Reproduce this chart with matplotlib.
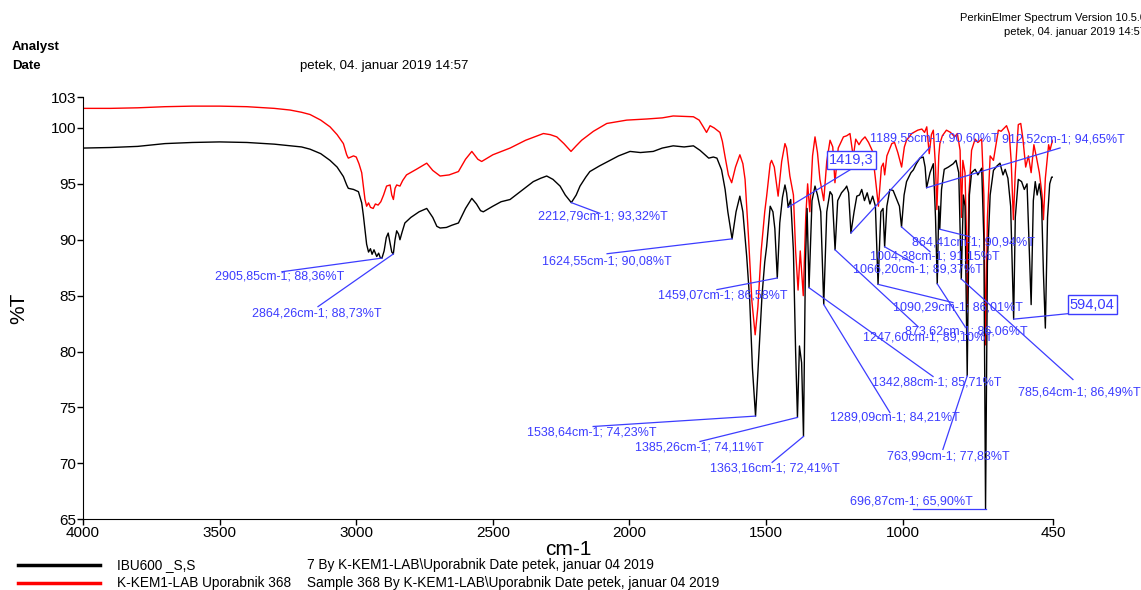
import numpy as np
import matplotlib.pyplot as plt

plt.rcParams['font.family'] = ['Liberation Sans', 'DejaVu Sans']

# --- espectro IBU600 (preto), pontos sem os picos marcados ---
black_wn = [4000, 3900, 3800, 3700, 3600, 3500, 3400, 3300, 3200, 3169, 3130, 3096, 3070,
            3047, 3035, 3029, 3010, 2992, 2980, 2974, 2966, 2962, 2955, 2948, 2942, 2935,
            2925, 2918, 2912, 2898, 2890, 2883, 2876, 2870, 2858, 2852, 2845, 2840, 2832,
            2822, 2800, 2770, 2742, 2720, 2705, 2693, 2670, 2650, 2626, 2600, 2577, 2560,
            2545, 2535, 2500, 2470, 2437, 2400, 2352, 2325, 2303, 2280, 2254, 2235, 2195,
            2181, 2160, 2145, 2110, 2071, 2040, 1998, 1960, 1913, 1880, 1840, 1800, 1766,
            1742, 1710, 1693, 1680, 1663, 1650, 1640, 1610, 1596, 1585, 1571, 1560, 1550,
            1528, 1515, 1505, 1498, 1485, 1475, 1468, 1450, 1440, 1431, 1425, 1419.3, 1410,
            1400, 1392, 1378, 1370, 1356, 1350, 1332, 1321, 1312, 1300, 1278, 1266, 1258,
            1238, 1224, 1210, 1205, 1198, 1178, 1168, 1158, 1150, 1140, 1130, 1120, 1110,
            1100, 1080, 1072, 1058, 1047, 1035, 1022, 1012, 995, 986, 970, 961, 950, 937,
            925, 918, 900, 888, 880, 868, 858, 848, 833, 815, 805, 795, 778, 772, 756, 748,
            735, 725, 711, 703, 690, 680, 668, 655, 644, 633, 625, 615, 605, 594.04, 588,
            577, 565, 555, 545, 538, 530, 522, 515, 508, 500, 492, 485, 478, 470, 462, 455,
            450]
black_t = [98.2, 98.25, 98.35, 98.6, 98.7, 98.75, 98.7, 98.55, 98.3, 98.1, 97.7, 97.1, 96.5,
           95.65, 94.9, 94.6, 94.5, 94.3, 93.3, 92.2, 90.5, 89.6, 88.9, 89.2, 88.7, 89.1,
           88.5, 88.8, 88.4, 89.0, 90.2, 90.6, 89.7, 88.9, 90.0, 90.8, 90.5, 90.0, 90.7,
           91.5, 92.0, 92.5, 92.8, 92.0, 91.2, 91.05, 91.1, 91.3, 91.5, 92.8, 93.7, 93.2,
           92.6, 92.5, 93.0, 93.4, 93.6, 94.3, 95.2, 95.5, 95.7, 95.4, 94.8, 94.0, 94.0,
           94.8, 95.6, 96.1, 96.6, 97.1, 97.5, 97.9, 97.8, 97.9, 98.2, 98.4, 98.3, 98.4,
           98.0, 97.3, 97.4, 97.3, 96.25, 94.5, 92.5, 92.5, 93.9, 92.5, 88.5, 84.6, 78.5,
           79.0, 85.0, 88.0, 89.4, 93.0, 92.5, 91.0, 91.5, 93.8, 94.9, 94.2, 92.9, 93.6,
           89.0, 80.0, 80.5, 79.0, 88.0, 92.8, 93.5, 94.8, 94.0, 92.5, 92.5, 94.3, 94.0,
           93.5, 94.2, 94.6, 94.8, 94.2, 92.5, 93.9, 94.0, 94.5, 93.5, 94.2, 93.2, 93.9,
           93.0, 92.5, 92.8, 93.0, 94.5, 94.4, 93.6, 93.0, 94.0, 95.2, 96.0, 96.25, 96.8, 97.3,
           97.4, 96.5, 96.0, 96.8, 92.0, 93.0, 94.5, 96.3, 96.5, 96.8, 97.1, 96.0, 94.0, 93.0,
           94.0, 96.0, 96.3, 95.8, 96.4, 90.0, 88.0, 94.0, 96.2, 96.6, 96.85, 95.8, 96.3,
           95.5, 93.0, 82.9, 92.0, 95.4, 95.2, 94.5, 95.0, 90.0, 84.2, 93.5, 95.2, 94.0,
           95.0, 93.5, 87.0, 82.1, 92.0, 95.0, 95.6, 95.6]

# --- espectro K-KEM1-LAB 368 (vermelho) ---
red_wn = [4000, 3900, 3800, 3700, 3600, 3500, 3400, 3300, 3242, 3200, 3169, 3130, 3096,
          3070, 3047, 3035, 3029, 3010, 3000, 2990, 2980, 2968, 2962, 2955, 2948, 2938,
          2930, 2920, 2910, 2900, 2889, 2876, 2870, 2864, 2858, 2852, 2840, 2830, 2816,
          2780, 2742, 2720, 2693, 2660, 2626, 2600, 2577, 2555, 2541, 2500, 2437, 2380,
          2315, 2290, 2266, 2240, 2214, 2195, 2175, 2132, 2083, 2010, 1937, 1880, 1840,
          1766, 1745, 1730, 1718, 1705, 1690, 1669, 1660, 1650, 1638, 1626, 1612, 1596,
          1585, 1577, 1565, 1552, 1540, 1530, 1518, 1505, 1498, 1485, 1480, 1470, 1456,
          1443, 1431, 1425, 1413, 1400, 1392, 1383, 1375, 1364, 1355, 1348, 1340, 1330,
          1321, 1312, 1303, 1289, 1278, 1266, 1256, 1248, 1236, 1217, 1205, 1193, 1181,
          1172, 1160, 1150, 1138, 1125, 1112, 1101, 1089, 1078, 1071, 1066, 1058, 1040,
          1030, 1018, 1004, 994, 986, 967, 945, 930, 920, 912, 903, 895, 888, 880, 875,
          868, 864, 855, 840, 825, 810, 800, 790, 785, 780, 772, 766, 764, 758, 748, 735,
          725, 711, 703, 697, 690, 680, 668, 650, 640, 620, 610, 603, 595, 588, 577, 568,
          560, 550, 540, 530, 520, 510, 500, 490, 485, 478, 466, 461, 455, 450]
red_t = [101.75, 101.75, 101.8, 101.9, 101.95, 101.95, 101.9, 101.75, 101.6, 101.4, 101.2,
         100.7, 100.1, 99.4, 98.6, 97.6, 97.3, 97.5, 97.4, 96.8, 96.0, 93.6, 93.0, 93.3,
         92.9, 92.8, 93.2, 93.1, 93.4, 94.0, 94.8, 94.9, 94.0, 93.6, 94.6, 94.9, 94.8,
         95.3, 95.8, 96.3, 96.85, 96.2, 95.7, 95.8, 96.1, 97.2, 97.9, 97.2, 97.0, 97.6,
         98.2, 98.9, 99.5, 99.4, 99.2, 98.6, 97.9, 98.4, 98.9, 99.7, 100.4, 100.7, 100.8,
         100.9, 101.07, 101.0, 100.7, 100.1, 99.6, 100.2, 100.0, 99.6, 98.8, 97.4, 95.8,
         95.1, 96.5, 97.6, 96.8, 95.4, 90.5, 84.5, 81.5, 84.0, 89.0, 92.5, 93.9, 96.8,
         97.1, 96.5, 93.9, 97.0, 98.6, 98.2, 95.7, 94.0, 89.0, 85.5, 89.0, 85.0, 92.0,
         95.0, 92.5, 97.5, 99.2, 97.8, 95.4, 93.5, 97.0, 98.9, 98.3, 95.1, 98.2, 99.2,
         99.3, 99.5, 97.4, 99.0, 98.5, 98.9, 99.2, 98.7, 98.0, 95.7, 93.0, 96.5, 96.85,
         95.8, 97.5, 98.6, 98.7, 97.8, 96.5, 98.3, 98.9, 99.5, 99.8, 99.9, 99.6, 100.1,
         97.7, 99.4, 99.8, 96.5, 92.7, 97.5, 98.6, 99.3, 99.8, 99.6, 99.2, 99.5, 98.0,
         92.0, 97.1, 96.0, 89.7, 84.0, 94.0, 98.0, 99.0, 98.7, 99.0, 94.0, 80.6, 92.0,
         97.5, 97.1, 99.8, 99.7, 100.2, 99.5, 97.0, 91.8, 96.0, 100.3, 100.4, 99.0, 96.5,
         97.5, 96.0, 98.5, 97.3, 96.0, 94.0, 91.8, 95.5, 98.5, 98.0, 98.6, 98.9]

# picos marcados no espectro preto
peak_wn = [2905.85, 2864.26, 2212.79, 1624.55, 1538.64, 1459.07, 1385.26, 1363.16,
           1342.88, 1289.09, 1247.60, 1189.55, 1090.29, 1066.20, 1004.38, 912.52,
           873.62, 864.41, 785.64, 763.99, 696.87]
peak_t = [88.36, 88.73, 93.32, 90.08, 74.23, 86.58, 74.11, 72.41,
          85.71, 84.21, 89.10, 90.60, 86.01, 89.37, 91.15, 94.65,
          86.06, 90.94, 86.49, 77.83, 65.90]
box_wn = [1419.3, 594.04]

# posição dos textos e início das linhas de chamada (cm-1, %T)
label_pos = [(3517, 86.70), (3381, 83.39), (2335, 92.05), (2320, 88.04), (2375, 72.77),
             (1896, 85.00), (1980, 71.43), (1705, 69.55), (1112, 77.23), (1266, 74.11),
             (1145, 81.25), (1120, 99.02), (1036, 83.93), (1182, 87.32), (1120, 88.48),
             (637, 98.93), (992, 81.79), (966, 89.73), (578, 76.34), (1057, 70.63),
             (1193, 66.61)]
line_start = [(3272, 87.14), (3140, 84.02), (2108, 92.36), (2082, 88.75), (2133, 73.30),
              (1680, 85.54), (1742, 71.96), (1478, 70.09), (889, 77.77), (1047, 74.55),
              (944, 82.23), (900, 98.30), (816, 84.38), (962, 87.95), (900, 88.93),
              (424, 98.21), (772, 82.23), (754, 90.27), (377, 77.50), (853, 71.25),
              (962, 65.90)]
box_pos = [(1189, 97.14), (307, 84.20)]
box_line_start = [(1193, 96.25), (322, 83.57)]

YTOP = 102.74
BLUE = '#3c3cff'
NARROW = ['Liberation Sans Narrow', 'Liberation Sans']

# junta os picos marcados com o resto da curva preta
bw = np.array(black_wn + peak_wn, dtype=float)
bt = np.array(black_t + peak_t, dtype=float)
order = np.argsort(-bw)
bw, bt = bw[order], bt[order]


def fmt(v):
    return f"{v:.2f}".replace('.', ',')


fig = plt.figure(figsize=(11.41, 5.90), dpi=100)
ax = fig.add_axes([83 / 1141, (590 - 519.3) / 590, 970 / 1141, 422 / 590])

ax.plot(red_wn, red_t, color='#ff0000', lw=1.0)
ax.plot(bw, bt, color='#000000', lw=1.0)

# rótulos dos picos
for wn, t, (tx, ty), (lx, ly) in zip(peak_wn, peak_t, label_pos, line_start):
    ax.plot([lx, wn], [ly, t], color=BLUE, lw=0.9, clip_on=False)
    ax.text(tx, ty, f"{fmt(wn)}cm-1; {fmt(t)}%T", color=BLUE, fontsize=9,
            ha='left', va='center', clip_on=False)

for wn, (tx, ty), (lx, ly) in zip(box_wn, box_pos, box_line_start):
    t = np.interp(wn, bw[::-1], bt[::-1])
    ax.plot([lx, wn], [ly, t], color=BLUE, lw=0.9, clip_on=False)
    ax.text(tx, ty, f"{wn:g}".replace('.', ','), color=BLUE, fontsize=10.5,
            ha='center', va='center', clip_on=False,
            bbox=dict(boxstyle='square,pad=0.15', fc='white', ec=BLUE, lw=1.0))

ax.set_xlim(4000, 450)
ax.set_ylim(65, YTOP)
ax.set_xticks([4000, 3500, 3000, 2500, 2000, 1500, 1000, 450])
ax.set_xticklabels(['4000', '3500', '3000', '2500', '2000', '1500', '1000', '450'])
ax.set_yticks([65, 70, 75, 80, 85, 90, 95, 100, YTOP])
ax.set_yticklabels(['65', '70', '75', '80', '85', '90', '95', '100', '103'])
ax.tick_params(labelsize=11, length=4, width=1, direction='out', pad=1)
for s in ['top', 'right']:
    ax.spines[s].set_visible(False)
ax.set_xlabel('cm-1', fontsize=15, labelpad=0)
ax.set_ylabel('%T', fontsize=15, labelpad=16)

# cabeçalho
fig.text(12 / 1141, 1 - 47 / 590, 'Analyst', fontsize=9.5, weight='bold', family=NARROW, va='center')
fig.text(12 / 1141, 1 - 66 / 590, 'Date', fontsize=9.5, weight='bold', family=NARROW, va='center')
fig.text(300 / 1141, 1 - 66 / 590, 'petek, 04. januar 2019 14:57', fontsize=9.5,
         family=NARROW, va='center')
fig.text(1146 / 1141, 1 - 18 / 590, 'PerkinElmer Spectrum Version 10.5.0', fontsize=8,
         family=NARROW, ha='right', va='center')
fig.text(1146 / 1141, 1 - 32 / 590, 'petek, 04. januar 2019 14:57', fontsize=8,
         family=NARROW, ha='right', va='center')

# legenda
fig.add_artist(plt.Line2D([18 / 1141, 100 / 1141], [1 - 565 / 590] * 2, color='#000000', lw=2.5))
fig.add_artist(plt.Line2D([18 / 1141, 100 / 1141], [1 - 583 / 590] * 2, color='#ff0000', lw=2.5))
fig.text(117 / 1141, 1 - 565 / 590, 'IBU600 _S,S', fontsize=9.8, family=NARROW, va='center')
fig.text(307 / 1141, 1 - 565 / 590, '7 By K-KEM1-LAB\\Uporabnik Date petek, januar 04 2019',
         fontsize=9.8, family=NARROW, va='center')
fig.text(117 / 1141, 1 - 583 / 590, 'K-KEM1-LAB Uporabnik 368', fontsize=9.8, family=NARROW,
         va='center')
fig.text(307 / 1141, 1 - 583 / 590,
         'Sample 368 By K-KEM1-LAB\\Uporabnik Date petek, januar 04 2019',
         fontsize=9.8, family=NARROW, va='center')

fig.savefig('out.png', dpi=100)
